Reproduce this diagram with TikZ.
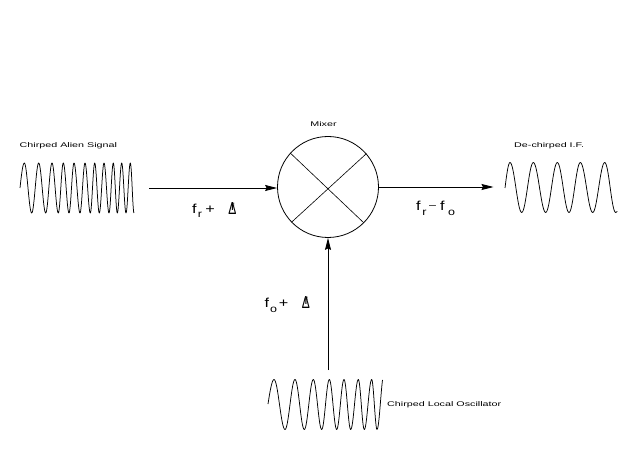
\documentclass[tikz,border=0pt]{standalone}
\usepackage{fontspec}
\setmainfont{Liberation Sans}
\newfontfamily\lblfont[FakeStretch=1.58]{Liberation Sans}
\newfontfamily\mathfont[FakeStretch=1.25]{Liberation Sans}
\usetikzlibrary{arrows.meta}
\tikzset{
  wave/.style={line width=0.75pt,line join=round},
  conn/.style={line width=0.9pt,-{Stealth[length=12pt,width=6pt,inset=1.5pt]}},
  lbl/.style={inner sep=0pt,font=\lblfont\fontsize{6.8}{7}\selectfont,text=black},
  math/.style={inner sep=0pt,font=\mathfont\fontsize{13}{14}\selectfont,text=black},
  sub/.style={inner sep=0pt,font=\mathfont\fontsize{10}{11}\selectfont,text=black},
  mix/.style={circle,draw,line width=0.8pt,minimum size=101pt,inner sep=0pt},
  thin cross/.style={line width=0.6pt}
}
\newcommand{\dfglyph}{\makebox[0pt]{\scalebox{0.8}[1.45]{\fontsize{12}{13}\selectfont Δ}}\makebox[0pt]{\raisebox{4pt}{\fontsize{10}{11}\selectfont f}}}
\begin{document}
\begin{tikzpicture}[x=1pt,y=-1pt]
\useasboundingbox[fill=white] (0,0) rectangle (640,462);
% mixer
\node[mix] (m) at (328,187) {};
\draw[thin cross] (m.138) -- (m.315);
\draw[thin cross] (m.41) -- (m.224);
\node[lbl] (mixlabel) at (323.5,124) {Mixer};
% connectors
\coordinate (inS) at (149,188);
\coordinate (outE) at (493.5,187);
\coordinate (loS) at (328,370);
\draw[conn] (inS) -- (m.west |- inS);
\draw[conn] (m.east |- outE) -- (outE);
\draw[conn] (loS) -- (m.south);
% alien wave
\draw[wave] (20,188) .. controls (21.4,175) and (22.8,163) .. (24.3,163)
 \foreach \a/\b/\c in {24.3/31.7/38.7,38.7/45.7/52,52/58.3/63.3,63.3/69/74,74/80/85,85/90.3/94.7,94.7/99.3/104,104/109/113.3,113.3/117.3/121.7,121.7/126/130.3}{
   .. controls ({\a+.3642*(\b-\a)},163) and ({\b-.3642*(\b-\a)},213) .. (\b,213)
   .. controls ({\b+.3642*(\c-\b)},213) and ({\c-.3642*(\c-\b)},163) .. (\c,163)
 }
 .. controls (131.7,163) and (132.7,213) .. (134,213);
% IF wave
\draw[wave] (505,188) .. controls (506.6,175) and (508.2,162.5) .. (510,162.5)
 \foreach \a/\b/\c in {510/521.7/533.3,533.3/545.7/557.3,557.3/569/580.3,580.3/592.7/604.7}{
   .. controls ({\a+.3642*(\b-\a)},162.5) and ({\b-.3642*(\b-\a)},212.5) .. (\b,212.5)
   .. controls ({\b+.3642*(\c-\b)},212.5) and ({\c-.3642*(\c-\b)},162.5) .. (\c,162.5)
 }
 .. controls (608.8,162.5) and (611.5,212.5) .. (615.7,212.5)
 .. controls (616.3,212.5) and (616.8,212.2) .. (617.3,211.5);
% LO wave
\draw[wave] (268,404) .. controls (270,391) and (272,379.5) .. (274,379.5)
 \foreach \a/\b/\c in {274/285/295,295/304.3/313.3,313.3/321.7/329.3,329.3/336.7/344,344/350.7/358.3,358.3/364.3/371.7}{
   .. controls ({\a+.3642*(\b-\a)},379.5) and ({\b-.3642*(\b-\a)},429.5) .. (\b,429.5)
   .. controls ({\b+.3642*(\c-\b)},429.5) and ({\c-.3642*(\c-\b)},379.5) .. (\c,379.5)
 }
 .. controls (373.5,379.5) and (375.2,429.5) .. (377,429.5)
 .. controls (379,429.5) and (380.6,395) .. (382.5,380);
% wave labels
\node[lbl,anchor=west] (alien) at (19.5,145.5) {Chirped Alien Signal};
\node[lbl,anchor=west] (ifl) at (514,145.5) {De-chirped I.F.};
\node[lbl,anchor=west] (lol) at (387,404.5) {Chirped Local Oscillator};
% frequency labels
\node[math] (f1) at (194.5,208.5) {f};
\node[sub] (r1) at (200,215) {r};
\node[math] (p1) at (210,210) {+};
\node[math] (d1) at (232.5,209) {\dfglyph};
\node[math] (f2) at (418.5,206) {f};
\node[sub] (r2) at (424.5,213) {r};
\node[sub] (m2) at (432.5,207) {–};
\node[math] (f3) at (442.5,206) {f};
\node[sub] (o3) at (451.5,213) {o};
\node[math] (f4) at (267,302.5) {f};
\node[sub] (o4) at (273.5,309.5) {o};
\node[math] (p4) at (283.5,304) {+};
\node[math] (d4) at (306,303) {\dfglyph};
\end{tikzpicture}
\end{document}
